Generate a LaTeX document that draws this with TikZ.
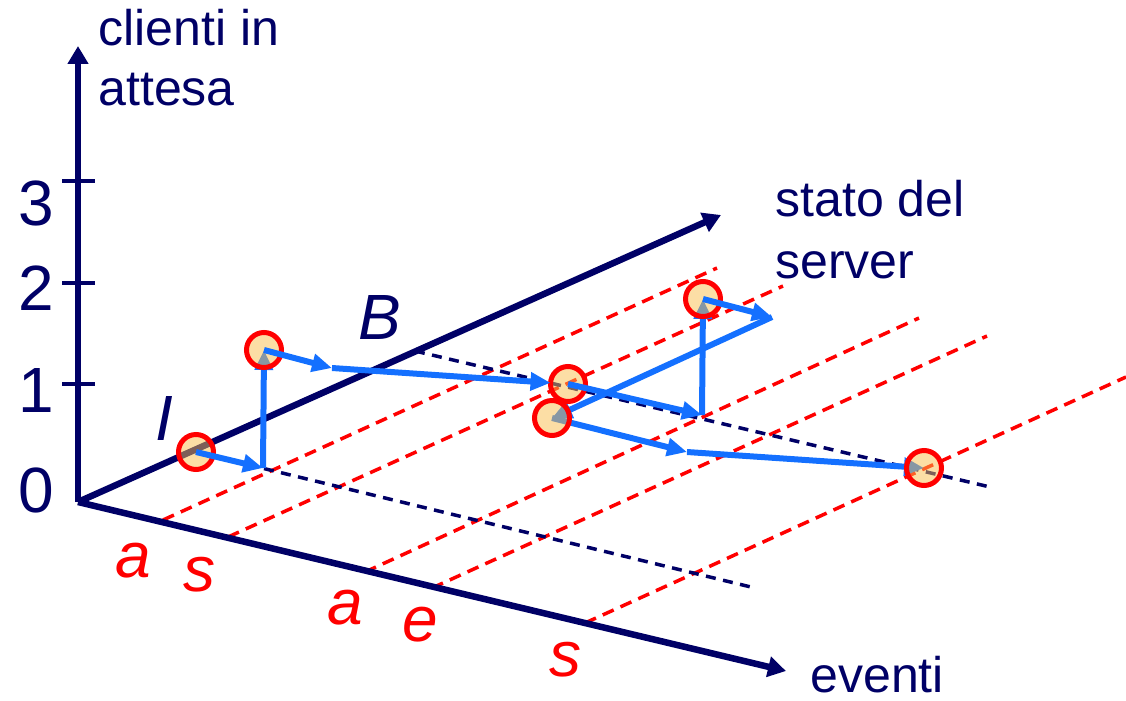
\documentclass[tikz,border=0pt]{standalone}
\usepackage{fontspec}
\setmainfont{Liberation Sans}
\usetikzlibrary{arrows.meta}
\definecolor{navy}{RGB}{0,0,102}
\definecolor{ablue}{RGB}{20,112,255}
\definecolor{peach}{RGB}{250,190,75}
\begin{document}
\begin{tikzpicture}[x=0.02cm,y=-0.02cm,
 axis/.style={navy,line width=0.13cm,-{Triangle[length=0.36cm,width=0.4cm]}},
 axtick/.style={navy,line width=0.07cm},
 reddash/.style={red,line width=0.07cm,dash pattern=on 0.24cm off 0.15cm},
 navydash/.style={navy,line width=0.07cm,dash pattern=on 0.2cm off 0.15cm},
 flow/.style={ablue,line width=0.12cm,-{Triangle[length=0.4cm,width=0.35cm]}},
 stnode/.style={circle,draw=red,line width=0.1cm,fill=peach,fill opacity=0.5,minimum size=0.7cm,inner sep=0pt,outer sep=0pt},
 lbl/.style={navy,font=\fontsize{28.5}{34}\selectfont,inner sep=0pt,anchor=base west},
 num/.style={navy,font=\fontsize{36.4}{40}\selectfont,inner sep=0pt,anchor=base},
 ev/.style={red,font=\fontsize{36.4}{40}\selectfont\itshape,inner sep=0pt,anchor=base},
 srv/.style={navy,font=\fontsize{36.4}{40}\selectfont\itshape,inner sep=0pt,anchor=base}]
\useasboundingbox (0,0) rectangle (1126,700);

% named points
\coordinate (O) at (78,502);
\coordinate (qtop) at (78,46);
\coordinate (stop) at (721,215);
\coordinate (etop) at (786,671);
\coordinate (bpt) at (415,351);
\coordinate (n1e) at (755,588);
\coordinate (n2e) at (990,487);
\coordinate (r1a) at (163,520);  \coordinate (r1b) at (717,268);
\coordinate (r2a) at (228,537);  \coordinate (r2b) at (783,286);
\coordinate (r3a) at (365,572);  \coordinate (r3b) at (919,318);
\coordinate (r4a) at (432,588);  \coordinate (r4b) at (987,336);
\coordinate (r5a) at (585,623);  \coordinate (r5b) at (1126,377);

% state circles (positions)
\coordinate (c1p) at (196,452);
\coordinate (c2p) at (264,350);
\coordinate (c3p) at (568,384);
\coordinate (c4p) at (552,418);
\coordinate (c5p) at (703,299);
\coordinate (c6p) at (924,468);

% bend points
\coordinate (p1) at (263,468);
\coordinate (p2) at (332,368);
\coordinate (p4) at (702,415);
\coordinate (p5) at (772,317);
\coordinate (p6) at (687,452);

% red dashed event lines
\draw[reddash] (r1a) -- (r1b);
\draw[reddash] (r2a) -- (r2b);
\draw[reddash] (r3a) -- (r3b);
\draw[reddash] (r4a) -- (r4b);
\draw[reddash] (r5a) -- (r5b);

% navy dashed server-state lines
\draw[navydash] (c1p) -- (n1e);
\draw[navydash] (bpt) -- (n2e);

% axes
\draw[axis] (O) -- (qtop);
\draw[axis] (O) -- (stop);
\draw[axis] (O) -- (etop);
\draw[axtick] (62,181) -- (95,181);
\draw[axtick] (62,283) -- (95,283);
\draw[axtick] (62,384) -- (95,384);

% labels
\node[lbl] (t1) at (98,45) {clienti in};
\node[lbl] (t2) at (98,105) {attesa};
\node[lbl] (t3) at (775,216) {stato del};
\node[lbl] (t4) at (775,278) {server};
\node[lbl] (t5) at (810,692) {eventi};
\node[num] (n3) at (36,225) {3};
\node[num] (n2) at (36,310) {2};
\node[num] (n1) at (36,412) {1};
\node[num] (n0) at (36,512) {0};
\node[srv] (lB) at (380,339) {B};
\node[srv] (lI) at (164,440) {I};
\node[ev] (e1) at (133,577) {a};
\node[ev] (e2) at (199,591) {s};
\node[ev] (e3) at (345,624) {a};
\node[ev] (e4) at (420,641) {e};
\node[ev] (e5) at (565,676) {s};

% transitions passing under circles
\draw[flow] (p1) -- (c2p);
\draw[flow] (p4) -- (c5p);
\draw[flow] (p5) -- (c4p);
\draw[flow] (c4p) -- (p6);
\draw[flow] (p6) -- (c6p);

% states
\node[stnode] (c1) at (c1p) {};
\node[stnode] (c2) at (c2p) {};
\node[stnode] (c3) at (c3p) {};
\node[stnode] (c4) at (c4p) {};
\node[stnode] (c5) at (c5p) {};
\node[stnode] (c6) at (c6p) {};

% transitions on top
\draw[flow] (c1.center) -- (p1);
\draw[flow] (c2.center) -- (p2);
\draw[flow] (p2) -- (c3);
\draw[flow] (c3.center) -- (p4);
\draw[flow] (c5.center) -- (p5);
\end{tikzpicture}
\end{document}
